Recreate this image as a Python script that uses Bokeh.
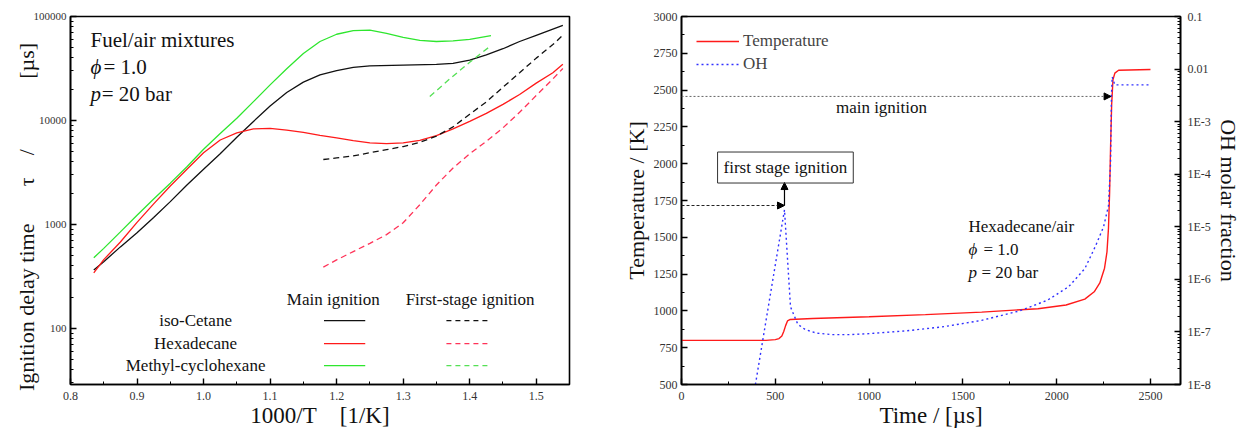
from bokeh.plotting import figure
from bokeh.layouts import row
from bokeh.models import (LogAxis, Range1d, LogScale, FixedTicker, PrintfTickFormatter,
                          Label, Arrow, NormalHead)
from bokeh.embed import file_html
from bokeh.resources import INLINE

FONT = "Liberation Serif"

# ---------------- Panel (a): ignition delay times ----------------
ic_x = [0.835, 0.85, 0.875, 0.9, 0.925, 0.95, 0.975, 1.0, 1.025, 1.05, 1.075, 1.1, 1.125, 1.15,
        1.175, 1.2, 1.225, 1.25, 1.3, 1.35, 1.375, 1.4, 1.425, 1.45, 1.475, 1.5, 1.54]
ic_y = [365, 440, 610, 835, 1170, 1660, 2400, 3400, 4800, 6900, 9800, 13800, 18600, 23400,
        27500, 30200, 32400, 33500, 34100, 34700, 35500, 38000, 42700, 49000, 57500, 66000, 82200]

hd_x = [0.835, 0.85, 0.875, 0.9, 0.925, 0.95, 0.975, 1.0, 1.025, 1.05, 1.075, 1.1, 1.125, 1.15,
        1.175, 1.2, 1.225, 1.25, 1.275, 1.3, 1.325, 1.35, 1.375, 1.4, 1.425, 1.45, 1.475, 1.5,
        1.525, 1.54]
hd_y = [343, 460, 680, 1050, 1580, 2350, 3400, 4900, 6500, 7600, 8300, 8400, 8100, 7700,
        7200, 6800, 6400, 6100, 6000, 6100, 6450, 7150, 8300, 9800, 11700, 14300, 17800, 22900,
        28800, 34700]

mch_x = [0.835, 0.85, 0.875, 0.9, 0.925, 0.95, 0.975, 1.0, 1.025, 1.05, 1.075, 1.1, 1.125, 1.15,
         1.175, 1.2, 1.225, 1.25, 1.275, 1.3, 1.325, 1.35, 1.375, 1.4, 1.432]
mch_y = [480, 590, 850, 1230, 1760, 2500, 3600, 5300, 7500, 10500, 15200, 22000, 31500, 44000,
         57500, 67500, 73000, 74000, 69000, 63000, 59000, 57500, 58200, 60300, 65600]

ic_fs_x = [1.18, 1.2, 1.225, 1.25, 1.275, 1.3, 1.325, 1.35, 1.375, 1.4, 1.425, 1.45, 1.475, 1.5,
           1.525, 1.54]
ic_fs_y = [4220, 4370, 4570, 4900, 5250, 5620, 6170, 7080, 8700, 11500, 15100, 20900, 28800,
           39800, 53700, 66000]

hd_fs_x = [1.18, 1.2, 1.225, 1.25, 1.275, 1.3, 1.325, 1.35, 1.375, 1.4, 1.425, 1.45, 1.475, 1.5,
           1.525, 1.54]
hd_fs_y = [390, 457, 550, 660, 800, 1040, 1550, 2400, 3500, 4790, 6310, 8510, 12000, 17400,
           25100, 31600]

mch_fs_x = [1.34, 1.37, 1.40, 1.432]
mch_fs_y = [17000, 25100, 36300, 52500]

a_xticks = [0.8, 0.9, 1.0, 1.1, 1.2, 1.3, 1.4, 1.5]
a_yticks = [100, 1000, 10000, 100000]
a_ylabels = ["100", "1000", "10000", "100000"]

# ---------------- Panel (b): temperature / OH history ----------------
t_T = [0, 450, 500, 520, 535, 545, 555, 565, 580, 700, 1000, 1300, 1600, 1900, 2050, 2150, 2200,
       2230, 2255, 2268, 2276, 2282, 2287, 2293, 2300, 2310, 2330, 2500]
T_K = [800, 800, 805, 812, 830, 860, 900, 932, 942, 948, 960, 975, 992, 1015, 1040, 1080, 1130,
       1190, 1290, 1400, 1560, 1800, 2100, 2400, 2570, 2615, 2635, 2640]

t_OH = [394, 470, 549, 565, 581, 620, 661, 720, 800, 900, 1000, 1200, 1400, 1600, 1800, 1950,
        2063, 2150, 2207, 2250, 2276, 2287, 2292, 2296, 2310, 2500]
X_OH = [1.0e-8, 4.3e-7, 2.1e-5, 2.5e-6, 3.0e-7, 1.4e-7, 1.1e-7, 9.5e-8, 8.9e-8, 8.9e-8, 9.3e-8,
        1.05e-7, 1.26e-7, 1.66e-7, 2.5e-7, 4.0e-7, 7.2e-7, 1.6e-6, 4.3e-6, 1.0e-5, 2.5e-5,
        1.6e-4, 3.2e-3, 7.1e-3, 5.0e-3, 5.0e-3]

b_xticks = [0, 500, 1000, 1500, 2000, 2500]
b_yticks = [500, 750, 1000, 1250, 1500, 1750, 2000, 2250, 2500, 2750, 3000]
b_ohticks = [1e-8, 1e-7, 1e-6, 1e-5, 1e-4, 1e-3, 1e-2, 1e-1]
b_ohlabels = ["1E-8", "1E-7", "1E-6", "1E-5", "1E-4", "1E-3", "0.01", "0.1"]

first_stage_t, first_stage_T = 549, 1716
main_t, main_T = 2290, 2457

SP = "\u2002"


def style_axis(ax, label_size="22px"):
    ax.major_tick_in = 6
    ax.major_tick_out = 0
    ax.minor_tick_in = 3
    ax.minor_tick_out = 0
    ax.axis_line_width = 1.6
    ax.major_tick_line_width = 1.4
    ax.minor_tick_line_width = 1.0
    ax.major_label_text_font = FONT
    ax.major_label_text_font_size = "12px"
    ax.major_label_text_color = "#333333"
    ax.major_label_standoff = 4
    ax.axis_label_text_font = FONT
    ax.axis_label_text_font_style = "normal"
    ax.axis_label_text_font_size = label_size
    ax.axis_label_text_color = "#111111"
    ax.axis_label_standoff = 2


def txt(p, x, y, s, size="16px", style="normal", align="left", **kw):
    p.add_layout(Label(x=x, y=y, text=s, text_font=FONT, text_font_size=size,
                       text_font_style=style, text_align=align, text_baseline="middle",
                       text_color="#111111", **kw))


def log_minor(lo_exp, hi_exp):
    out = []
    for e in range(lo_exp, hi_exp):
        for k in range(2, 10):
            out.append(k * 10.0 ** e)
    return out


# ---------- figure (a) ----------
p1 = figure(frame_width=499, frame_height=368, x_range=(0.8, 1.55), y_range=(29, 100000),
            y_axis_type="log", output_backend="svg", toolbar_location=None,
            min_border_left=70, min_border_right=36, min_border_top=16, min_border_bottom=44)
p1.xgrid.visible = False
p1.ygrid.visible = False
p1.outline_line_color = "black"
p1.outline_line_width = 1.6
p1.background_fill_color = "white"

p1.xaxis.ticker = FixedTicker(ticks=a_xticks, minor_ticks=[0.85, 0.95, 1.05, 1.15, 1.25, 1.35, 1.45])
p1.xaxis.formatter = PrintfTickFormatter(format="%.1f")
p1.yaxis.ticker = FixedTicker(ticks=a_yticks, minor_ticks=log_minor(1, 5))
p1.yaxis.major_label_overrides = {v: s for v, s in zip(a_yticks, a_ylabels)}
p1.xaxis.axis_label = "1000/T" + SP + SP + "[1/K]"
p1.yaxis.axis_label = ("Ignition delay time" + SP * 3 + "\u2009" + "\u03c4" + SP * 2 + "/"
                       + SP * 6 + "\u2009" + "[\u00b5s]" + SP * 3)
style_axis(p1.xaxis[0], label_size="23px")
style_axis(p1.yaxis[0], label_size="22px")
p1.xaxis.major_label_standoff = 7
p1.xaxis.axis_label_standoff = 0
p1.yaxis.axis_label_standoff = -8
p1.yaxis.major_label_text_font_size = "11px"

BLACK, RED, GREEN = "#111111", "#ff1a1a", "#2ee62e"
RED_D, GREEN_D = "#ff3358", "#55e055"
p1.line(ic_x, ic_y, line_color=BLACK, line_width=1.3)
p1.line(hd_x, hd_y, line_color=RED, line_width=1.3)
p1.line(mch_x, mch_y, line_color=GREEN, line_width=1.3)
p1.line(ic_fs_x, ic_fs_y, line_color=BLACK, line_width=1.3, line_dash="6 4")
p1.line(hd_fs_x, hd_fs_y, line_color=RED_D, line_width=1.3, line_dash="6 4")
p1.line(mch_fs_x, mch_fs_y, line_color=GREEN_D, line_width=1.3, line_dash="6 4")

# Condition text
txt(p1, 0.830, 58800, "Fuel/air mixtures", size="21px")
txt(p1, 0.830, 32400, "\u03d5", size="21px", style="italic")
txt(p1, 0.8495, 32400, "= 1.0", size="21px")
txt(p1, 0.830, 17800, "p", size="21px", style="italic")
txt(p1, 0.847, 17800, "= 20 bar", size="21px")

# Table-style legend
txt(p1, 1.195, 190, "Main ignition", size="17px", align="center")
txt(p1, 1.4006, 190, "First-stage ignition", size="17px", align="center")
rows_y = [119, 71.8, 44]
names = ["iso-Cetane", "Hexadecane", "Methyl-cyclohexane"]
solid_c = [BLACK, RED, GREEN]
dash_c = [BLACK, RED_D, GREEN_D]
for yy, nm, cs, cd in zip(rows_y, names, solid_c, dash_c):
    txt(p1, 0.988, yy, nm, size="17px", align="center")
    p1.line([1.181, 1.243], [yy, yy], line_color=cs, line_width=1.3)
    p1.line([1.365, 1.432], [yy, yy], line_color=cd, line_width=1.3, line_dash="5 4")

# ---------- figure (b) ----------
p2 = figure(frame_width=499, frame_height=368, x_range=(0, 2660), y_range=(500, 3000),
            output_backend="svg", toolbar_location=None,
            min_border_left=76, min_border_right=58, min_border_top=16, min_border_bottom=44)
p2.xgrid.visible = False
p2.ygrid.visible = False
p2.outline_line_color = "black"
p2.outline_line_width = 1.6
p2.extra_y_ranges = {"oh": Range1d(1e-8, 0.1)}
p2.extra_y_scales = {"oh": LogScale()}
oh_axis = LogAxis(y_range_name="oh", axis_label="OH molar fraction")
oh_axis.ticker = FixedTicker(ticks=b_ohticks, minor_ticks=log_minor(-8, -1))
oh_axis.major_label_overrides = {v: s for v, s in zip(b_ohticks, b_ohlabels)}
p2.add_layout(oh_axis, "right")

p2.xaxis.ticker = FixedTicker(ticks=b_xticks, minor_ticks=[250, 750, 1250, 1750, 2250])
p2.yaxis[0].ticker = FixedTicker(ticks=b_yticks,
                                 minor_ticks=[625, 875, 1125, 1375, 1625, 1875, 2125, 2375, 2625, 2875])
p2.xaxis.axis_label = "Time / [\u00b5s]"
p2.yaxis[0].axis_label = "Temperature / [K]"
style_axis(p2.xaxis[0], label_size="23px")
style_axis(p2.yaxis[0], label_size="22px")
style_axis(oh_axis, label_size="22px")
p2.xaxis.major_label_standoff = 7
p2.xaxis.axis_label_standoff = 0
oh_axis.major_label_standoff = 7

p2.line(t_T, T_K, line_color="#ff1a1a", line_width=1.4, legend_label="Temperature")
p2.line(t_OH, X_OH, line_color="#3030ff", line_width=1.4, line_dash="2 3",
        y_range_name="oh", legend_label="OH")

lg = p2.legend[0]
lg.location = "top_left"
lg.border_line_alpha = 0
lg.background_fill_alpha = 0
lg.label_text_font = FONT
lg.label_text_font_size = "17px"
lg.glyph_width = 43
lg.glyph_height = 18
lg.label_height = 18
lg.label_standoff = 4
lg.spacing = 3
lg.margin = 10
lg.padding = 5

# Ignition markers
p2.add_layout(Arrow(end=NormalHead(size=7, fill_color="black", line_color="black"),
                    x_start=0, y_start=first_stage_T, x_end=first_stage_t, y_end=first_stage_T,
                    line_color="#222222", line_width=1, line_dash="3 2"))
p2.add_layout(Arrow(end=NormalHead(size=7, fill_color="black", line_color="black"),
                    x_start=first_stage_t, y_start=first_stage_T, x_end=first_stage_t, y_end=1872,
                    line_color="black", line_width=1.2))
p2.add_layout(Label(x=554, y=1974, text="first stage ignition", text_font=FONT,
                    text_font_size="17px", text_align="center", text_baseline="middle",
                    text_color="#111111",
                    border_line_color="#333333", border_line_width=1, padding=6))
p2.add_layout(Arrow(end=NormalHead(size=7, fill_color="black", line_color="black"),
                    x_start=0, y_start=main_T, x_end=main_t, y_end=main_T,
                    line_color="#666666", line_width=1, line_dash="2 2"))
txt(p2, 1066, 2382, "main ignition", size="17px", align="center")

txt(p2, 1530, 1573, "Hexadecane/air", size="17px")
txt(p2, 1530, 1417, "\u03d5", size="17px", style="italic")
txt(p2, 1610, 1417, "= 1.0", size="17px")
txt(p2, 1530, 1261, "p", size="17px", style="italic")
txt(p2, 1599, 1261, "= 20 bar", size="17px")

layout = row(p1, p2)
open("out.html", "w").write(file_html(layout, INLINE))
